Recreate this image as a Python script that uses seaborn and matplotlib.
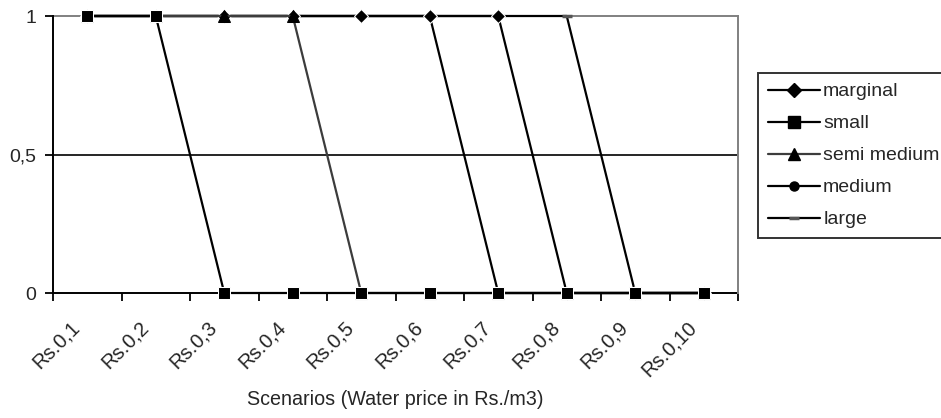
import numpy as np
import pandas as pd
import matplotlib
matplotlib.use("Agg")
import matplotlib.pyplot as plt
import matplotlib.transforms as mtransforms
import seaborn as sns
from matplotlib.ticker import FixedLocator

categories = ["Rs.0,1", "Rs.0,2", "Rs.0,3", "Rs.0,4", "Rs.0,5",
              "Rs.0,6", "Rs.0,7", "Rs.0,8", "Rs.0,9", "Rs.0,10"]
marginal = [1, 1, 1, 1, 1, 1, 1, 0, 0, 0]
small = [1, 1, 0, 0, 0, 0, 0, 0, 0, 0]
semi_medium = [1, 1, 1, 1, 0, 0, 0, 0, 0, 0]
medium = [1, 1, 1, 1, 1, 1, 0, 0, 0, 0]
large = [1, 1, 1, 1, 1, 1, 1, 1, 0, 0]
y_ticks = [0, 0.5, 1]
y_tick_labels = ["0", "0,5", "1"]

sns.set_theme(style="white")
plt.rcParams["font.family"] = ["Liberation Sans", "DejaVu Sans"]

FS = 14

fig = plt.figure(figsize=(9.41, 4.18), dpi=100)
ax = fig.add_axes([53 / 941, 1 - 293 / 418, (738 - 53) / 941, (293 - 16) / 418])

pos = np.arange(len(categories))
series = {
    "marginal": (marginal, dict(marker="D", color="black", markersize=7)),
    "small": (small, dict(marker="s", color="black", markersize=8.5)),
    "semi medium": (semi_medium, dict(marker="^", color="#3c3c3c", markersize=9,
                                      markerfacecolor="black", markeredgecolor="black")),
    "medium": (medium, dict(marker="o", color="black", markersize=6.5)),
    "large": (large, dict(marker="_", color="black", markersize=7,
                          markeredgecolor="#555555", markeredgewidth=2.5)),
}
draw_order = ["large", "medium", "marginal", "semi medium", "small"]
for name in draw_order:
    vals, kw = series[name]
    df = pd.DataFrame({"x": pos, "y": vals})
    sns.lineplot(data=df, x="x", y="y", ax=ax, linewidth=1.6, legend=False,
                 clip_on=False, zorder=3, **kw)

ax.axhline(0.5, color="black", linewidth=1.2, zorder=1)

ax.set_xlim(-0.5, len(categories) - 0.5)
ax.set_ylim(0, 1)
ax.set_xticks(pos)
ax.xaxis.set_minor_locator(FixedLocator(np.arange(len(categories) + 1) - 0.5))
ax.tick_params(axis="x", which="major", length=0, pad=18)
ax.tick_params(axis="x", which="minor", length=6, width=1.3, color="black",
               direction="out", bottom=True)
ax.set_xticklabels(categories, rotation=45, ha="right", va="top",
                   rotation_mode="anchor", fontsize=14.5)
ax.set_yticks(y_ticks)
ax.set_yticklabels(y_tick_labels, fontsize=FS)
ax.tick_params(axis="y", length=6, width=1.3, color="black", direction="out",
               left=True, pad=6)
ax.set_xlabel("Scenarios (Water price in Rs./m3)", fontsize=14.2, labelpad=7)
ax.set_ylabel("")

shift = mtransforms.ScaledTranslation(-17 / 100, 0, fig.dpi_scale_trans)
for lbl in ax.get_xticklabels():
    lbl.set_transform(lbl.get_transform() + shift)

for s in ["left", "bottom"]:
    ax.spines[s].set_color("black")
    ax.spines[s].set_linewidth(1.4)
for s in ["top", "right"]:
    ax.spines[s].set_color("#808080")
    ax.spines[s].set_linewidth(1.4)
ax.spines["left"].set_zorder(4)
ax.spines["bottom"].set_zorder(2)

labels = ["marginal", "small", "semi medium", "medium", "large"]
handles = []
for name in labels:
    vals, kw = series[name]
    h, = ax.plot([], [], linewidth=1.6, **kw)
    handles.append(h)
leg = fig.legend(handles, labels, loc="upper left",
                 bbox_to_anchor=(758 / 941, 1 - 73 / 418),
                 frameon=True, fancybox=False, edgecolor="black", fontsize=FS,
                 handlelength=2.7, handletextpad=0.15, labelspacing=0.74,
                 borderpad=0.5, borderaxespad=0)
leg.get_frame().set_linewidth(1.4)

fig.savefig("out.png", dpi=100)
